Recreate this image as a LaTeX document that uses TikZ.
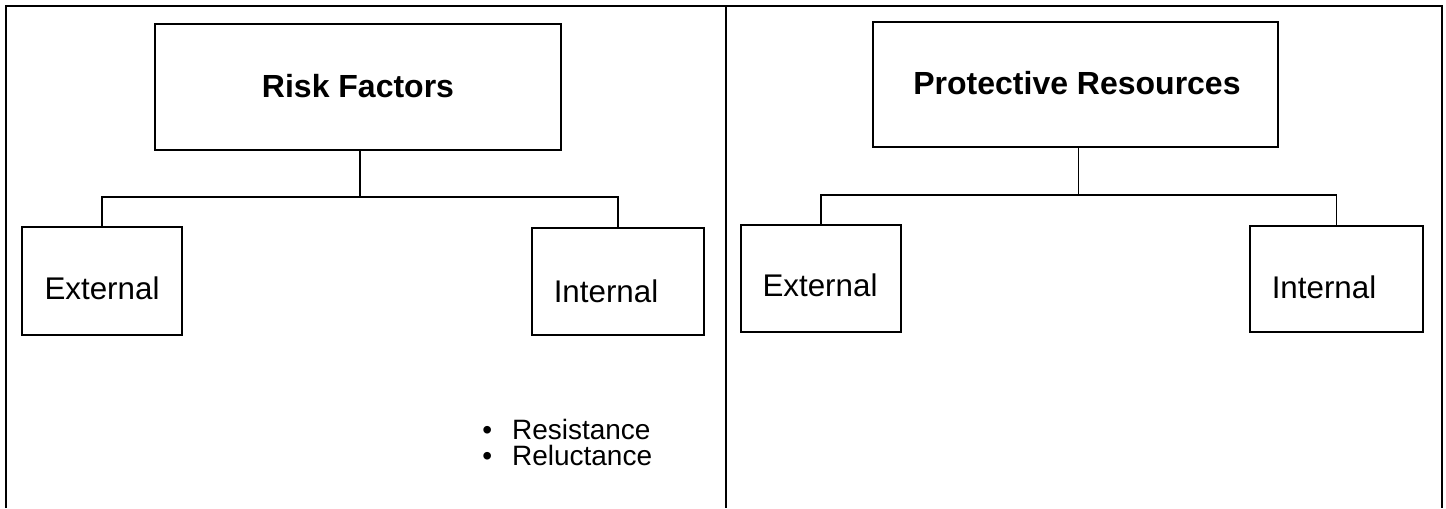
\documentclass[tikz,border=0pt]{standalone}
\usepackage{fontspec}
\setmainfont{Liberation Sans}
\begin{document}
\begin{tikzpicture}[x=0.75pt,y=-0.75pt,
  frame/.style={line width=1.5pt},
  box/.style={draw, rectangle, line width=1.1pt, inner sep=0pt},
  link/.style={line width=0.9pt},
  titletext/.style={font=\fontsize{24}{28}\selectfont\bfseries, inner sep=0pt},
  subtext/.style={font=\fontsize{23.5}{28}\selectfont, inner sep=0pt},
  itemtext/.style={font=\fontsize{21}{26}\selectfont, inner sep=0pt, anchor=base west}]
\useasboundingbox (0,0) rectangle (1446,508);

% table cells
\draw[frame] (6,508) -- (6,6) -- (1442,6) -- (1442,508);
\draw[frame] (726,6) -- (726,508);

% ---- left cell: risk factors ----
\node[box, minimum width=304.5pt, minimum height=94.5pt] (rfL) at (358,87) {};
\node[box, minimum width=120pt, minimum height=81pt] (extL) at (102,281) {};
\node[box, minimum width=129pt, minimum height=80.25pt] (intL) at (618,281.5) {};
\node[titletext] (rfLt) at (358,86) {Risk Factors};
\node[subtext] (extLt) at (102,288) {External};
\node[subtext] (intLt) at (606,291) {Internal};
\coordinate (stemL) at ([xshift=1.5pt]rfL.south);
\coordinate (busL) at (0,197);
\draw[link] (stemL) -- (stemL |- busL) -| (extL.north);
\draw[link] (stemL |- busL) -| (intL.north);
\node[itemtext] (itemA) at (482,439) {•\hspace{15pt}Resistance};
\node[itemtext] (itemB) at (482,465) {•\hspace{15pt}Reluctance};

% ---- right cell: protective resources ----
\node[box, minimum width=303.75pt, minimum height=93.75pt] (prR) at (1075.5,84.5) {};
\node[box, minimum width=120pt, minimum height=80.25pt] (extR) at (821,278.5) {};
\node[box, minimum width=129.75pt, minimum height=79.5pt] (intR) at (1336.5,279) {};
\node[titletext] (prRt) at (1077,83) {Protective Resources};
\node[subtext] (extRt) at (820,285.5) {External};
\node[subtext] (intRt) at (1324,287) {Internal};
\coordinate (stemR) at ([xshift=2.25pt]prR.south);
\coordinate (busR) at (0,195);
\draw[link] (stemR) -- (stemR |- busR) -| (extR.north);
\draw[link] (stemR |- busR) -| (intR.north);
\end{tikzpicture}
\end{document}
